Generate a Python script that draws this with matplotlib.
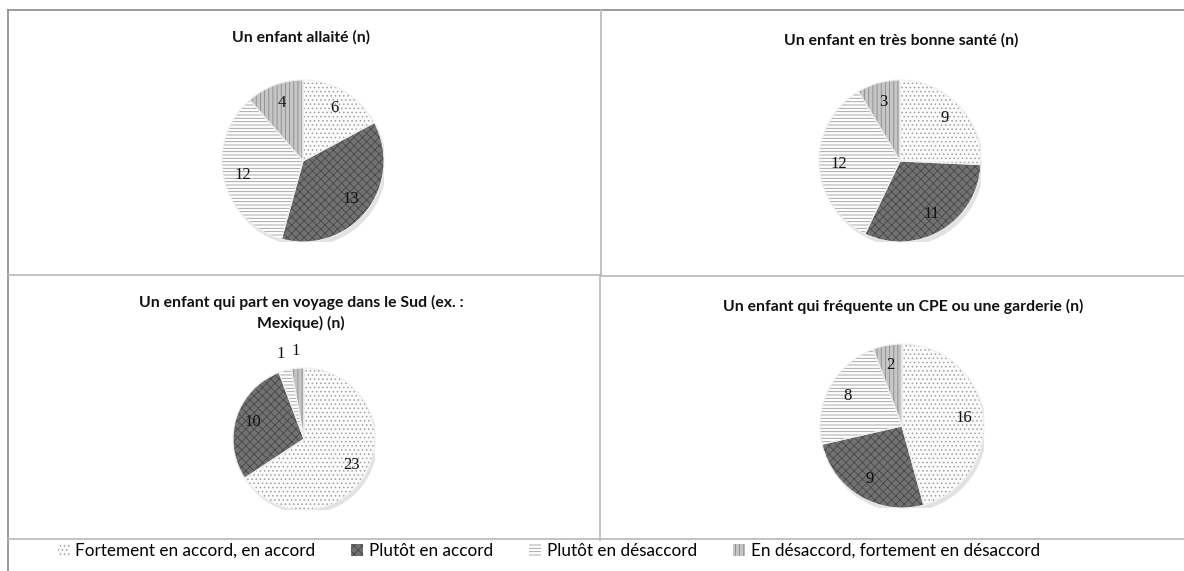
import matplotlib
matplotlib.use("Agg")
import matplotlib.pyplot as plt
from matplotlib.patches import Patch, Circle
from matplotlib.lines import Line2D
import numpy as np

categories = ["Fortement en accord, en accord", "Plutôt en accord",
              "Plutôt en désaccord", "En désaccord, fortement en désaccord"]
titles = ["Un enfant allaité (n)",
          "Un enfant en très bonne santé (n)",
          "Un enfant qui part en voyage dans le Sud (ex. :\nMexique) (n)",
          "Un enfant qui fréquente un CPE ou une garderie (n)"]
allaite = [6, 13, 12, 4]
bonne_sante = [9, 11, 12, 3]
voyage_sud = [23, 10, 1, 1]
garderie = [16, 9, 8, 2]
series = [allaite, bonne_sante, voyage_sud, garderie]

# styles
faces = ["#fbfbfb", "#727272", "#ffffff", "#c6c6c6"]
hatch_cols = ["#a0a0a0", "#474747", "#9a9a9a", "#8a8a8a"]
hatches = ["....", "xxxx", "-----", "||||"]

plt.rcParams["hatch.linewidth"] = 0.6

W, H = 1184, 571
fig = plt.figure(figsize=(W / 100, H / 100), dpi=100)
fig.patch.set_facecolor("white")

def fx(x):
    return x / W

def fy(y):
    return 1 - y / H

# frame lines (pixel layout)
def line(x0, y0, x1, y1, c="#b8b8b8", lw=1.2):
    fig.add_artist(Line2D([fx(x0), fx(x1)], [fy(y0), fy(y1)], color=c, lw=lw,
                          transform=fig.transFigure))

line(8, 10, 1184, 10, c="#8a8a8a")
line(8, 10, 8, 571, c="#8a8a8a")
line(601, 10, 601, 275)
line(600, 275, 600, 540)
line(8, 275, 601, 275)
line(601, 276, 1184, 276)
line(8, 539, 1184, 539)

# pie layout: center x, center y, radius (pixels)
layout = [(303, 161, 81), (900, 161, 81), (304, 439, 71), (902, 426, 82)]
title_pos = [(301, 37), (901, 40), (301, 313), (903, 306)]

for vals, (cx, cy, r), title, (tx, ty) in zip(series, layout, titles, title_pos):
    ax = fig.add_axes([fx(cx - r), fy(cy + r), 2 * r / W, 2 * r / H])
    ax.set_aspect("equal")
    # shadow
    ax.add_patch(Circle((0.03, -0.05), 1.0, color="#e2e2e2", zorder=0, lw=0))
    wedges, _ = ax.pie(vals, startangle=90, counterclock=False,
                       colors=faces, wedgeprops=dict(lw=0))
    for w, h, hc in zip(wedges, hatches, hatch_cols):
        w.set_hatch(h)
        w.set_edgecolor(hc)
        w.set_linewidth(0)
        w.set_zorder(1)
    outl, _ = ax.pie(vals, startangle=90, counterclock=False,
                     colors=["none"] * 4,
                     wedgeprops=dict(lw=0.8, edgecolor="#eeeeee", zorder=2))
    total = sum(vals)
    for w, v in zip(wedges, vals):
        ang = np.deg2rad((w.theta1 + w.theta2) / 2)
        d = 1.24 if v / total < 0.04 else 0.76
        ax.text(d * np.cos(ang), d * np.sin(ang), str(v), ha="center",
                va="center", fontsize=12, family="Liberation Serif",
                color="#111111", zorder=3)
    ax.set_xlim(-1, 1)
    ax.set_ylim(-1, 1)
    ax.axis("off")
    fig.text(fx(tx), fy(ty), title, ha="center", va="center", fontsize=11.3,
             fontweight="bold", family="Lato", color="#111111", linespacing=1.5)

handles = [Patch(facecolor=f, edgecolor=hc, hatch=h, lw=0)
           for f, hc, h in zip(faces, hatch_cols, hatches)]
fig.legend(handles, categories, loc="center",
           bbox_to_anchor=(fx(549), fy(551)), ncol=4, frameon=False,
           prop=dict(family="Lato", size=12.3), handlelength=0.7,
           handleheight=0.7, handletextpad=0.35, columnspacing=2.1)

fig.savefig("out.png", dpi=100, facecolor="white")
